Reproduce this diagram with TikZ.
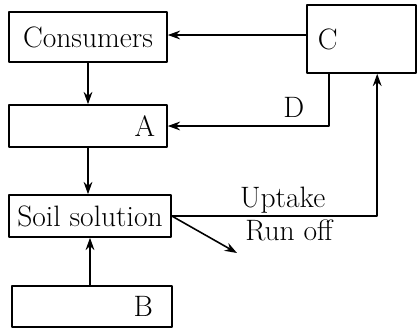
\documentclass[tikz,border=0pt]{standalone}
\usetikzlibrary{arrows.meta}
\begin{document}
\begin{tikzpicture}[line cap=round,line join=round,
  box/.style={draw,line width=0.9pt,inner sep=0pt,font=\fontsize{16.8}{19}\selectfont},
  lbl/.style={inner sep=1pt,font=\fontsize{16.8}{19}\selectfont},
  arr/.style={line width=0.9pt,-{Stealth[length=7pt,width=5pt]}}]
\path[use as bounding box] (0.0000,0.0000) rectangle (8.3600,6.6000);
\node[box,minimum width=3.16cm,minimum height=1.00cm] (cons) at (1.7600,5.8600) {Consumers};
\node[box,inner xsep=0.22cm,text width=1.74cm,align=left,minimum height=1.36cm] (cbox) at (7.2300,5.8200) {C};
\node[box,inner xsep=0.24cm,text width=2.68cm,align=right,minimum height=0.84cm] (abox) at (1.7600,4.0800) {A};
\node[box,minimum width=3.24cm,minimum height=0.84cm] (soil) at (1.8000,2.2800) {Soil solution};
\node[box,inner xsep=0.38cm,text width=2.44cm,align=right,minimum height=0.82cm] (bbox) at (1.8400,0.4700) {B};
\coordinate (runend) at (4.7400,1.5400);
\node[lbl] (runoff) at (5.7800,2.0000) {Run off};
\draw[arr] ([yshift=0.08cm]cbox.west) -- ([yshift=0.08cm]cbox.west -| cons.east);
\draw[arr] (cons.south) -- (abox.north);
\draw[arr] ([xshift=0.46cm]cbox.south west) |- (abox.east) node[lbl,pos=0.61,above=0.12cm] {D};
\draw[arr] (abox.south) -- (abox.south |- soil.north);
\draw[arr] (soil.south |- bbox.north) -- (soil.south);
\draw[arr] (soil.east) -| ([xshift=1.42cm]cbox.south west) node[lbl,pos=0.27,above] {Uptake};
\draw[arr] (soil.east) -- (runend);
\end{tikzpicture}
\end{document}
